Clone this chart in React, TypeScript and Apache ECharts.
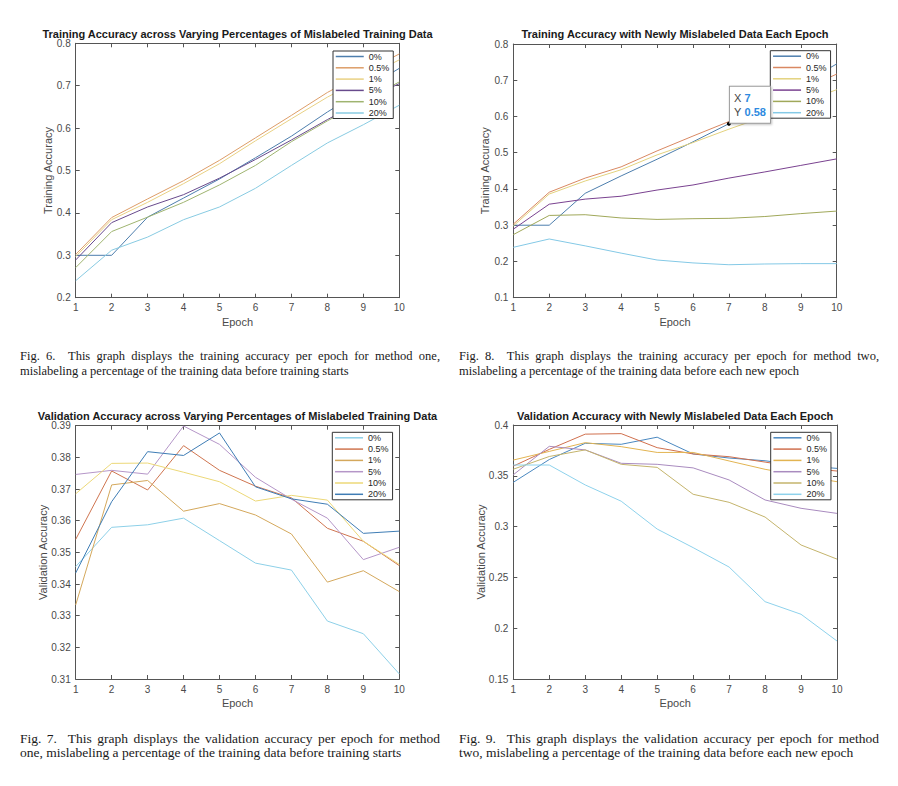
import React, { useEffect, useRef } from 'react';
import * as echarts from 'echarts';

// ---------- shared ----------
const EPOCHS = [1, 2, 3, 4, 5, 6, 7, 8, 9, 10];
const LEGEND_LABELS = ['0%', '0.5%', '1%', '5%', '10%', '20%'];
const X_NAME = 'Epoch';

// ---------- Fig. 6 : training accuracy, method one ----------
const FIG6_TITLE = 'Training Accuracy across Varying Percentages of Mislabeled Training Data';
const FIG6_Y_NAME = 'Training Accuracy';
const FIG6_Y_TICKS = [0.2, 0.3, 0.4, 0.5, 0.6, 0.7, 0.8];
const FIG6_P0 = [0.300, 0.300, 0.390, 0.435, 0.480, 0.530, 0.581, 0.638, 0.690, 0.741];
const FIG6_P05 = [0.302, 0.389, 0.433, 0.476, 0.524, 0.577, 0.630, 0.684, 0.730, 0.775];
const FIG6_P1 = [0.297, 0.384, 0.425, 0.469, 0.516, 0.570, 0.622, 0.673, 0.718, 0.761];
const FIG6_P5 = [0.289, 0.377, 0.414, 0.443, 0.482, 0.526, 0.572, 0.620, 0.665, 0.705];
const FIG6_P10 = [0.271, 0.356, 0.390, 0.425, 0.466, 0.512, 0.568, 0.617, 0.663, 0.709];
const FIG6_P20 = [0.240, 0.312, 0.343, 0.384, 0.414, 0.458, 0.512, 0.565, 0.608, 0.654];
const FIG6_CAPTION = [
  'Fig. 6.  This graph displays the training accuracy per epoch for method one,',
  'mislabeling a percentage of the training data before training starts',
];

// ---------- Fig. 8 : training accuracy, method two ----------
const FIG8_TITLE = 'Training Accuracy with Newly Mislabeled Data Each Epoch';
const FIG8_Y_NAME = 'Training Accuracy';
const FIG8_Y_TICKS = [0.1, 0.2, 0.3, 0.4, 0.5, 0.6, 0.7, 0.8];
const FIG8_P0 = [0.300, 0.300, 0.388, 0.436, 0.482, 0.530, 0.580, 0.632, 0.688, 0.745];
const FIG8_P05 = [0.303, 0.391, 0.430, 0.461, 0.505, 0.546, 0.586, 0.628, 0.672, 0.717];
const FIG8_P1 = [0.298, 0.386, 0.422, 0.453, 0.494, 0.528, 0.565, 0.600, 0.637, 0.674];
const FIG8_P5 = [0.289, 0.358, 0.372, 0.380, 0.397, 0.411, 0.430, 0.447, 0.465, 0.483];
const FIG8_P10 = [0.274, 0.327, 0.329, 0.320, 0.316, 0.318, 0.319, 0.324, 0.332, 0.339];
const FIG8_P20 = [0.239, 0.262, 0.243, 0.223, 0.204, 0.196, 0.191, 0.193, 0.194, 0.194];
const FIG8_TIP_EPOCH = 7; // data tip on the 0% line
const FIG8_CAPTION = [
  'Fig. 8.  This graph displays the training accuracy per epoch for method two,',
  'mislabeling a percentage of the training data before each new epoch',
];

// ---------- Fig. 7 : validation accuracy, method one ----------
const FIG7_TITLE = 'Validation Accuracy across Varying Percentages of Mislabeled Training Data';
const FIG7_Y_NAME = 'Validation Accuracy';
const FIG7_Y_TICKS = [0.31, 0.32, 0.33, 0.34, 0.35, 0.36, 0.37, 0.38, 0.39];
const FIG7_P0 = [0.3455, 0.3579, 0.3587, 0.3608, 0.3537, 0.3466, 0.3444, 0.3283, 0.3243, 0.3116];
const FIG7_P05 = [0.3541, 0.3757, 0.3697, 0.3837, 0.3759, 0.3709, 0.3672, 0.3576, 0.3535, 0.3458];
const FIG7_P1 = [0.3334, 0.3713, 0.3727, 0.3630, 0.3654, 0.3618, 0.3558, 0.3406, 0.3442, 0.3376];
const FIG7_P5 = [0.3746, 0.3759, 0.3747, 0.3899, 0.3841, 0.3737, 0.3668, 0.3608, 0.3477, 0.3516];
const FIG7_P10 = [0.3685, 0.3781, 0.3782, 0.3753, 0.3723, 0.3662, 0.3680, 0.3665, 0.3535, 0.3462];
const FIG7_P20 = [0.3435, 0.3660, 0.3818, 0.3806, 0.3877, 0.3707, 0.3669, 0.3652, 0.3560, 0.3567];
const FIG7_CAPTION = [
  'Fig. 7.  This graph displays the validation accuracy per epoch for method',
  'one, mislabeling a percentage of the training data before training starts',
];

// ---------- Fig. 9 : validation accuracy, method two ----------
const FIG9_TITLE = 'Validation Accuracy with Newly Mislabeled Data Each Epoch';
const FIG9_Y_NAME = 'Validation Accuracy';
const FIG9_Y_TICKS = [0.15, 0.2, 0.25, 0.3, 0.35, 0.4];
const FIG9_P0 = [0.3436, 0.3660, 0.3820, 0.3810, 0.3880, 0.3715, 0.3675, 0.3648, 0.3600, 0.3573];
const FIG9_P05 = [0.3595, 0.3760, 0.3910, 0.3915, 0.3777, 0.3715, 0.3688, 0.3635, 0.3580, 0.3547];
const FIG9_P1 = [0.3655, 0.3740, 0.3826, 0.3787, 0.3730, 0.3730, 0.3646, 0.3564, 0.3500, 0.3442];
const FIG9_P5 = [0.3510, 0.3790, 0.3755, 0.3623, 0.3613, 0.3578, 0.3459, 0.3262, 0.3180, 0.3130];
const FIG9_P10 = [0.3565, 0.3690, 0.3755, 0.3613, 0.3583, 0.3318, 0.3239, 0.3094, 0.2819, 0.2680];
const FIG9_P20 = [0.3606, 0.3606, 0.3410, 0.3250, 0.2976, 0.2793, 0.2602, 0.2261, 0.2137, 0.1874];
const FIG9_CAPTION = [
  'Fig. 9.  This graph displays the validation accuracy per epoch for method',
  'two, mislabeling a percentage of the training data before each new epoch',
];

const SANS = '"Liberation Sans", Arial, sans-serif';
const SERIF_NAME = 'Liberation Serif';
const SERIF = '"Liberation Serif", "Times New Roman", serif';
const AXIS_COLOR = '#555555';
const LABEL_COLOR = '#4a4a4a';
const CAPTION_WIDTH = 420;

type PanelCfg = {
  title: string;
  yName: string;
  yTicks: number[];
  values: number[][];
  colors: string[];
  grid: [number, number, number, number];
  titleTop: number;
  yNameGap: number;
  legendPos: [number, number];
  caption: string[];
  captionPos: [number, number];
  captionSize: number;
  captionLineHeight: number;
  tipEpoch?: number;
};

let measureCtx: CanvasRenderingContext2D | null = null;
function textWidth(s: string, size: number) {
  if (!measureCtx) measureCtx = document.createElement('canvas').getContext('2d');
  if (!measureCtx) return s.length * size * 0.45;
  measureCtx.font = `${size}px "${SERIF_NAME}"`;
  return measureCtx.measureText(s).width;
}

// Justified caption (all lines but the last are stretched to the column width)
function captionElements(lines: string[], x0: number, y0: number, size: number, lh: number) {
  const els: any[] = [];
  const style = { fontFamily: SERIF, fontSize: size, fill: '#1a1a1a' };
  lines.forEach((line, li) => {
    const top = y0 + li * lh;
    if (li === lines.length - 1) {
      els.push({ type: 'text', left: x0, top, silent: true, style: { ...style, text: line } });
      return;
    }
    const words = line.split(' ');
    const space = textWidth(' ', size);
    const widths = words.map((w) => (w ? textWidth(w, size) : 0));
    const natural = widths.reduce((a, b) => a + b, 0) + space * (words.length - 1);
    const extra = Math.max(0, (CAPTION_WIDTH - natural) / (words.length - 1));
    let x = x0;
    words.forEach((w, wi) => {
      if (w) els.push({ type: 'text', left: x, top, silent: true, style: { ...style, text: w } });
      x += widths[wi] + space + extra;
    });
  });
  return els;
}

function buildOption(cfg: PanelCfg) {
  const ymin = cfg.yTicks[0];
  const ymax = cfg.yTicks[cfg.yTicks.length - 1];
  const yint = +(cfg.yTicks[1] - cfg.yTicks[0]).toFixed(4);
  const xmin = EPOCHS[0];
  const xmax = EPOCHS[EPOCHS.length - 1];
  const lineStyle = { color: AXIS_COLOR, width: 1 };
  const tick = { show: true, inside: true, length: 4, lineStyle };
  const label = { fontFamily: SANS, fontSize: 10, color: LABEL_COLOR };
  const nameStyle = { fontFamily: SANS, fontSize: 11, color: LABEL_COLOR };

  const series: any[] = LEGEND_LABELS.map((name, i) => {
    const s: any = {
      name,
      type: 'line',
      xAxisIndex: 0,
      yAxisIndex: 0,
      symbol: 'none',
      silent: true,
      emphasis: { disabled: true },
      data: EPOCHS.map((e, j) => [e, cfg.values[i][j]]),
      lineStyle: { color: cfg.colors[i], width: 1 },
      itemStyle: { color: cfg.colors[i] },
    };
    if (i === 0 && cfg.tipEpoch !== undefined) {
      const idx = EPOCHS.indexOf(cfg.tipEpoch);
      const yv = cfg.values[0][idx];
      s.markPoint = {
        silent: true,
        symbol: 'circle',
        symbolSize: 4,
        itemStyle: { color: '#000' },
        data: [{ coord: [cfg.tipEpoch, yv] }],
        label: {
          show: true,
          position: [3, 1],
          align: 'left',
          verticalAlign: 'bottom',
          backgroundColor: '#ffffff',
          borderColor: '#9a9a9a',
          borderWidth: 1,
          padding: [4, 4, 4, 4],
          shadowColor: 'rgba(0,0,0,0.25)',
          shadowBlur: 2,
          shadowOffsetX: 1,
          shadowOffsetY: 1,
          formatter: `{k|X} {v|${cfg.tipEpoch}}\n{k|Y} {v|${yv.toFixed(2)}}`,
          rich: {
            k: { fontFamily: SANS, fontSize: 11, color: '#444', lineHeight: 14 },
            v: { fontFamily: SANS, fontSize: 11, color: '#2d8ae0', fontWeight: 'bold', lineHeight: 14 },
          },
        },
      };
    }
    return s;
  });

  return {
    animation: false,
    grid: { left: cfg.grid[0], top: cfg.grid[1], width: cfg.grid[2], height: cfg.grid[3], containLabel: false },
    title: {
      text: cfg.title,
      left: cfg.grid[0] + cfg.grid[2] / 2,
      top: cfg.titleTop,
      textAlign: 'center',
      padding: 0,
      textStyle: { fontFamily: SANS, fontSize: 11, fontWeight: 'bold', color: '#1a1a1a' },
    },
    legend: {
      orient: 'vertical',
      left: cfg.legendPos[0],
      top: cfg.legendPos[1],
      data: LEGEND_LABELS,
      selectedMode: false,
      itemWidth: 28,
      itemHeight: 10,
      itemGap: 2.3,
      padding: [1, 4, 1, 2],
      borderColor: '#333333',
      borderWidth: 1,
      backgroundColor: '#ffffff',
      itemStyle: { opacity: 0 },
      lineStyle: { width: 1.5 },
      textStyle: { fontFamily: SANS, fontSize: 9, color: '#262626' },
    },
    xAxis: [
      {
        type: 'value', min: xmin, max: xmax, interval: 1,
        name: X_NAME, nameLocation: 'middle', nameGap: 18.5, nameTextStyle: nameStyle,
        nameMoveOverlap: false,
        axisLine: { show: true, onZero: false, lineStyle },
        axisTick: tick,
        axisLabel: { ...label, margin: 5 },
        splitLine: { show: false },
      },
      {
        type: 'value', position: 'top', min: xmin, max: xmax, interval: 1,
        axisLine: { show: true, onZero: false, lineStyle },
        axisTick: tick,
        axisLabel: { show: false },
        splitLine: { show: false },
      },
    ],
    yAxis: [
      {
        type: 'value', min: ymin, max: ymax, interval: yint,
        name: cfg.yName, nameLocation: 'middle', nameGap: cfg.yNameGap, nameTextStyle: nameStyle,
        nameMoveOverlap: false,
        axisLine: { show: true, onZero: false, lineStyle },
        axisTick: tick,
        axisLabel: { ...label, margin: 5 },
        splitLine: { show: false },
      },
      {
        type: 'value', position: 'right', min: ymin, max: ymax, interval: yint,
        axisLine: { show: true, onZero: false, lineStyle },
        axisTick: tick,
        axisLabel: { show: false },
        splitLine: { show: false },
      },
    ],
    series,
    graphic: captionElements(cfg.caption, cfg.captionPos[0], cfg.captionPos[1], cfg.captionSize, cfg.captionLineHeight),
  };
}

const PANELS: { left: number; top: number; cfg: PanelCfg }[] = [
  {
    left: 0, top: 0,
    cfg: {
      title: FIG6_TITLE, yName: FIG6_Y_NAME, yTicks: FIG6_Y_TICKS,
      values: [FIG6_P0, FIG6_P05, FIG6_P1, FIG6_P5, FIG6_P10, FIG6_P20],
      colors: ['#4d7ead', '#dd9d68', '#e9d184', '#684a8c', '#9fb470', '#88cbe2'],
      grid: [75.7, 43.3, 323.6, 254.4], titleTop: 28, yNameGap: 22,
      legendPos: [333, 51], caption: FIG6_CAPTION, captionPos: [20, 349.5],
      captionSize: 12.5, captionLineHeight: 15,
    },
  },
  {
    left: 449, top: 0,
    cfg: {
      title: FIG8_TITLE, yName: FIG8_Y_NAME, yTicks: FIG8_Y_TICKS,
      values: [FIG8_P0, FIG8_P05, FIG8_P1, FIG8_P5, FIG8_P10, FIG8_P20],
      colors: ['#4d7ead', '#d98862', '#e3d27e', '#7a4290', '#a0a85a', '#84c9e6'],
      grid: [64.3, 44, 323.4, 253.7], titleTop: 28, yNameGap: 22.5,
      legendPos: [321.3, 50.7], caption: FIG8_CAPTION, captionPos: [10, 349.5],
      captionSize: 12.5, captionLineHeight: 15,
      tipEpoch: FIG8_TIP_EPOCH,
    },
  },
  {
    left: 0, top: 393,
    cfg: {
      title: FIG7_TITLE, yName: FIG7_Y_NAME, yTicks: FIG7_Y_TICKS,
      values: [FIG7_P0, FIG7_P05, FIG7_P1, FIG7_P5, FIG7_P10, FIG7_P20],
      colors: ['#8dd0e8', '#cf7550', '#d4a85c', '#b596c8', '#ecd878', '#3f7db5'],
      grid: [75.7, 32.7, 323.6, 253.3], titleTop: 17, yNameGap: 27,
      legendPos: [332.3, 39.3], caption: FIG7_CAPTION, captionPos: [20, 338],
      captionSize: 13.5, captionLineHeight: 14.5,
    },
  },
  {
    left: 449, top: 393,
    cfg: {
      title: FIG9_TITLE, yName: FIG9_Y_NAME, yTicks: FIG9_Y_TICKS,
      values: [FIG9_P0, FIG9_P05, FIG9_P1, FIG9_P5, FIG9_P10, FIG9_P20],
      colors: ['#4a88c0', '#d0704e', '#e2b452', '#a98bbf', '#c4b46c', '#8ed2ec'],
      grid: [64.3, 32, 323.7, 254], titleTop: 17, yNameGap: 27,
      legendPos: [321.7, 39.3], caption: FIG9_CAPTION, captionPos: [10, 338],
      captionSize: 13.5, captionLineHeight: 14.5,
    },
  },
];

function Panel({ left, top, cfg }: { left: number; top: number; cfg: PanelCfg }) {
  const ref = useRef<HTMLDivElement>(null);
  useEffect(() => {
    if (!ref.current) return;
    const chart = echarts.init(ref.current, null, { renderer: 'svg' });
    chart.setOption(buildOption(cfg) as any);
    return () => chart.dispose();
  }, [cfg]);
  return <div ref={ref} style={{ position: 'absolute', left, top, width: 449, height: 393 }} />;
}

export default function App() {
  return (
    <div style={{ position: 'absolute', left: 0, top: 0, width: 898, height: 786, background: '#ffffff', overflow: 'hidden' }}>
      {PANELS.map((p, i) => (
        <Panel key={i} left={p.left} top={p.top} cfg={p.cfg} />
      ))}
    </div>
  );
}
